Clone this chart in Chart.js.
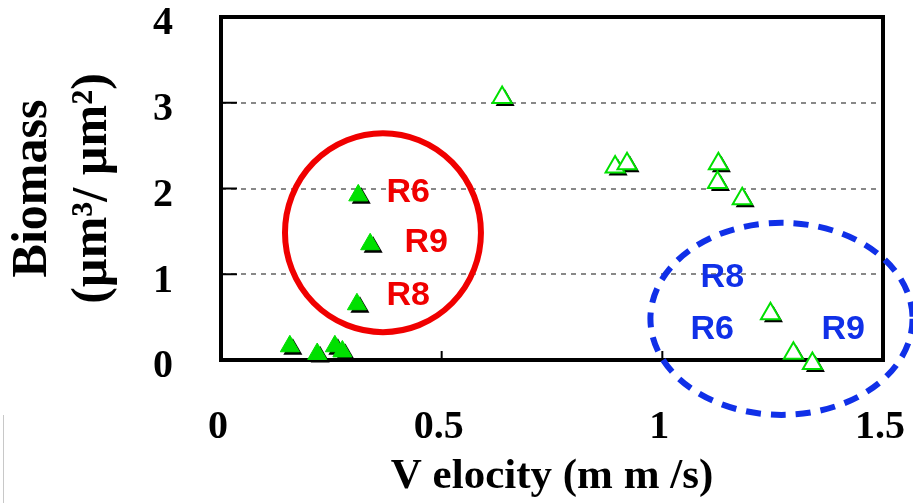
<!DOCTYPE html>
<html lang="en">
<head>
<meta charset="utf-8">
<title>Biomass vs velocity</title>
<script src="https://cdn.jsdelivr.net/npm/chart.js@4.4.0/dist/chart.umd.min.js"></script>
<style>
  html, body { margin: 0; padding: 0; background: #fff; }
  #wrap { position: relative; width: 913px; height: 503px; }
  #edge { position: absolute; left: 3px; top: 415px; width: 1px; height: 88px; background: #c8c8c8; }
</style>
</head>
<body>
<div id="wrap">
  <canvas id="biomassChart"></canvas>
  <div id="edge"></div>
</div>
<script>
// velocity (mm/s) and biomass (um3/um2)
const filledVelocity = [0.156, 0.218, 0.258, 0.275, 0.311, 0.338, 0.308];
const filledBiomass  = [0.16, 0.07, 0.16, 0.10, 1.92, 1.35, 0.65];
const openVelocity = [0.637, 0.893, 0.920, 1.127, 1.125, 1.181, 1.245, 1.297, 1.340];
const openBiomass  = [3.06, 2.25, 2.29, 2.29, 2.07, 1.88, 0.54, 0.08, -0.04];

const xTicks = [0, 0.5, 1, 1.5];
const yTicks = [0, 1, 2, 3, 4];
const yGridAt = [1, 2, 3];
const xTitle = 'V elocity (m m /s)';
const yTitle = ['Biomass', '(µm³/ µm²)'];

// run labels and the rings round them, in data units
const redLabels = ['R6', 'R9', 'R8'];
const redLabelX = [0.424, 0.465, 0.424];
const redLabelY = [1.95, 1.37, 0.75];
const blueLabels = ['R8', 'R6', 'R9'];
const blueLabelX = [1.136, 1.113, 1.41];
const blueLabelY = [0.96, 0.35, 0.35];
const redRing = [0.367, 1.485, 0.222, 1.16];   // cx, cy, rx, ry
const blueRing = [1.27, 0.48, 0.297, 1.12];

const green = '#00e000';
const serif = 'Liberation Serif';

function pairs(xs, ys) {
  return xs.map((x, i) => ({x: x, y: ys[i]}));
}

function triangle(ctx, x, y, r) {
  ctx.beginPath();
  ctx.moveTo(x, y - r);
  ctx.lineTo(x + Math.sin(2 * Math.PI / 3) * r, y + r / 2);
  ctx.lineTo(x - Math.sin(2 * Math.PI / 3) * r, y + r / 2);
  ctx.closePath();
}

// black drop shadow under every marker
const markerShadow = {
  id: 'markerShadow',
  beforeDatasetDraw(chart, args) {
    const ctx = chart.ctx;
    const r = chart.data.datasets[args.index].pointRadius;
    ctx.save();
    ctx.fillStyle = '#000';
    args.meta.data.forEach(p => {
      triangle(ctx, p.x + 3, p.y + 3, r);
      ctx.fill();
    });
    ctx.restore();
  }
};

// plot frame and short inner tick marks
const frame = {
  id: 'frame',
  beforeDatasetsDraw(chart) {
    const {ctx, chartArea: a, scales} = chart;
    ctx.save();
    ctx.strokeStyle = '#000';
    ctx.lineWidth = 2;
    yGridAt.forEach(v => {
      const py = scales.y.getPixelForValue(v);
      ctx.beginPath(); ctx.moveTo(a.left, py); ctx.lineTo(a.left + 16, py); ctx.stroke();
    });
    xTicks.slice(1, -1).forEach(v => {
      const px = scales.x.getPixelForValue(v);
      ctx.beginPath(); ctx.moveTo(px, a.bottom); ctx.lineTo(px, a.bottom - 9); ctx.stroke();
    });
    ctx.lineWidth = 4;
    ctx.strokeRect(a.left, a.top, a.right - a.left, a.bottom - a.top);
    ctx.restore();
  }
};

const rings = {
  id: 'rings',
  afterDraw(chart) {
    const {ctx, scales: {x, y}} = chart;
    function ellipse(ring, color, dash) {
      const cx = x.getPixelForValue(ring[0]);
      const cy = y.getPixelForValue(ring[1]);
      const rx = Math.abs(x.getPixelForValue(ring[0] + ring[2]) - cx);
      const ry = Math.abs(y.getPixelForValue(ring[1] + ring[3]) - cy);
      ctx.save();
      ctx.strokeStyle = color;
      ctx.lineWidth = 6;
      ctx.setLineDash(dash);
      ctx.beginPath();
      ctx.ellipse(cx, cy, rx, ry, 0, 0, 2 * Math.PI);
      ctx.stroke();
      ctx.restore();
    }
    function labels(texts, xs, ys, color) {
      ctx.save();
      ctx.fillStyle = color;
      ctx.font = 'bold 34px "Liberation Sans", Arial, sans-serif';
      ctx.textAlign = 'center';
      ctx.textBaseline = 'middle';
      texts.forEach((t, i) => {
        ctx.fillText(t, x.getPixelForValue(xs[i]), y.getPixelForValue(ys[i]));
      });
      ctx.restore();
    }
    ellipse(redRing, '#f00000', []);
    ellipse(blueRing, '#1030e8', [15, 10]);
    labels(redLabels, redLabelX, redLabelY, '#f00000');
    labels(blueLabels, blueLabelX, blueLabelY, '#1030e8');
  }
};

const chart = new Chart(document.getElementById('biomassChart'), {
  type: 'scatter',
  data: {
    datasets: [
      {
        data: pairs(filledVelocity, filledBiomass),
        pointStyle: 'triangle',
        pointRadius: 11,
        backgroundColor: green,
        borderColor: green,
        borderWidth: 1,
        clip: false
      },
      {
        data: pairs(openVelocity, openBiomass),
        pointStyle: 'triangle',
        pointRadius: 11,
        backgroundColor: '#fff',
        borderColor: green,
        borderWidth: 2,
        clip: false
      }
    ]
  },
  options: {
    responsive: true,
    maintainAspectRatio: false,
    animation: false,
    layout: {padding: {left: 0, top: 17, right: 30, bottom: 0}},
    plugins: {legend: {display: false}, tooltip: {enabled: false}},
    scales: {
      x: {
        type: 'linear',
        min: 0,
        max: 1.5,
        afterBuildTicks: s => { s.ticks = xTicks.map(v => ({value: v})); },
        afterFit: s => { s.height = 143; s.paddingLeft = 0; s.paddingRight = 0; },
        grid: {display: false, drawTicks: false},
        border: {display: false},
        ticks: {
          color: '#000',
          font: {family: serif, size: 40, weight: 'bold'},
          padding: 44,
          labelOffset: -3,
          maxRotation: 0,
          autoSkip: false,
          callback: v => String(v)
        },
        title: {
          display: true,
          text: xTitle,
          color: '#000',
          font: {family: serif, size: 43, weight: 'bold'},
          padding: {top: 0, bottom: 0}
        }
      },
      y: {
        type: 'linear',
        min: 0,
        max: 4,
        afterBuildTicks: s => { s.ticks = yTicks.map(v => ({value: v})); },
        afterFit: s => { s.width = 221; s.paddingTop = 0; s.paddingBottom = 0; },
        grid: {
          drawTicks: false,
          lineWidth: 2,
          color: c => yGridAt.includes(c.tick.value) ? '#888' : 'rgba(0,0,0,0)'
        },
        border: {display: false, dash: [5, 5]},
        ticks: {
          color: '#000',
          font: {family: serif, size: 40, weight: 'bold'},
          padding: 48,
          labelOffset: 7,
          callback: v => String(v)
        },
        title: {
          display: true,
          text: yTitle,
          color: '#000',
          font: {family: serif, size: 50, weight: 'bold', lineHeight: 1.2},
          padding: {top: 3, bottom: 0}
        }
      }
    }
  },
  plugins: [markerShadow, frame, rings]
});
</script>
</body>
</html>
